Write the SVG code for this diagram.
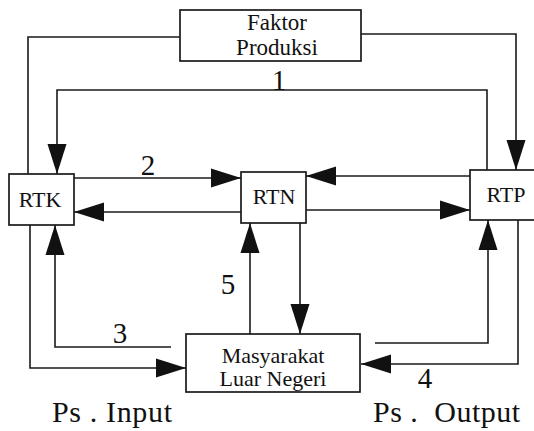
<svg xmlns="http://www.w3.org/2000/svg" width="534" height="431" viewBox="0 0 534 431">
<style>
.box{fill:#fff;stroke:#1a1a1a;stroke-width:1.7}
.ln{fill:none;stroke:#1a1a1a;stroke-width:1.6}
text{fill:#111}
.t{text-anchor:middle}
.lab{font-size:23px}
.ms{font-size:22px}
.nd{font-size:22px}
.num{font-size:29px}
.big{font-size:30px}
</style>
<defs>
<marker id="ah" markerUnits="userSpaceOnUse" markerWidth="31" markerHeight="20" refX="30" refY="10" orient="auto" viewBox="0 0 31 20">
<path d="M0,0.5 L30,10 L0,19.5 Z" fill="#111"/>
</marker>
</defs>
<g id="connectors">
<polyline class="ln" points="180,37 28,37 28,174"/>
<polyline class="ln" points="361,34 516,34 516,170" marker-end="url(#ah)"/>
<polyline class="ln" points="487,170 487,90 57,90 57,174" marker-end="url(#ah)"/>
<line class="ln" x1="74" y1="178" x2="241" y2="178" marker-end="url(#ah)"/>
<line class="ln" x1="241" y1="212" x2="74" y2="212" marker-end="url(#ah)"/>
<line class="ln" x1="470" y1="176" x2="306" y2="176" marker-end="url(#ah)"/>
<line class="ln" x1="306" y1="210" x2="470" y2="210" marker-end="url(#ah)"/>
<polyline class="ln" points="30,225 30,368 186,368" marker-end="url(#ah)"/>
<polyline class="ln" points="171,347 55,347 55,225" marker-end="url(#ah)"/>
<line class="ln" x1="250" y1="334" x2="250" y2="223" marker-end="url(#ah)"/>
<line class="ln" x1="300" y1="223" x2="300" y2="334" marker-end="url(#ah)"/>
<polyline class="ln" points="375,343 488,343 488,220" marker-end="url(#ah)"/>
<polyline class="ln" points="518,220 518,364 361,364" marker-end="url(#ah)"/>
<g font-family="Liberation Serif, Times New Roman, serif">
<text class="t num" x="279" y="90">1</text>
<text class="t num" x="148" y="175">2</text>
<text class="t num" x="120" y="343">3</text>
<text class="t num" x="425" y="388">4</text>
<text class="t num" x="228" y="294">5</text>
</g>
</g>
<g id="faktor-produksi" font-family="Liberation Serif, Times New Roman, serif">
<rect class="box" x="180" y="10" width="181" height="51"/>
<text class="t lab" x="277" y="30">Faktor</text>
<text class="t lab" x="277" y="55">Produksi</text>
</g>
<g id="rtk" font-family="Liberation Serif, Times New Roman, serif">
<rect class="box" x="9" y="174" width="65" height="51"/>
<text class="t nd" x="40" y="207">RTK</text>
</g>
<g id="rtn" font-family="Liberation Serif, Times New Roman, serif">
<rect class="box" x="241" y="172" width="65" height="51"/>
<text class="t nd" x="274" y="204">RTN</text>
</g>
<g id="rtp" font-family="Liberation Serif, Times New Roman, serif">
<rect class="box" x="470" y="170" width="70" height="50"/>
<text class="t nd" x="506" y="202">RTP</text>
</g>
<g id="masyarakat" font-family="Liberation Serif, Times New Roman, serif">
<rect class="box" x="186" y="334" width="174" height="58"/>
<text class="t ms" x="273" y="363">Masyarakat</text>
<text class="t ms" x="273" y="386">Luar Negeri</text>
</g>
<g id="labels" font-family="Liberation Serif, Times New Roman, serif">
<text class="big" x="52" y="422" textLength="120" lengthAdjust="spacing">Ps . Input</text>
<text class="big" x="373" y="422" xml:space="preserve" textLength="147" lengthAdjust="spacing">Ps .  Output</text>
</g>
</svg>
